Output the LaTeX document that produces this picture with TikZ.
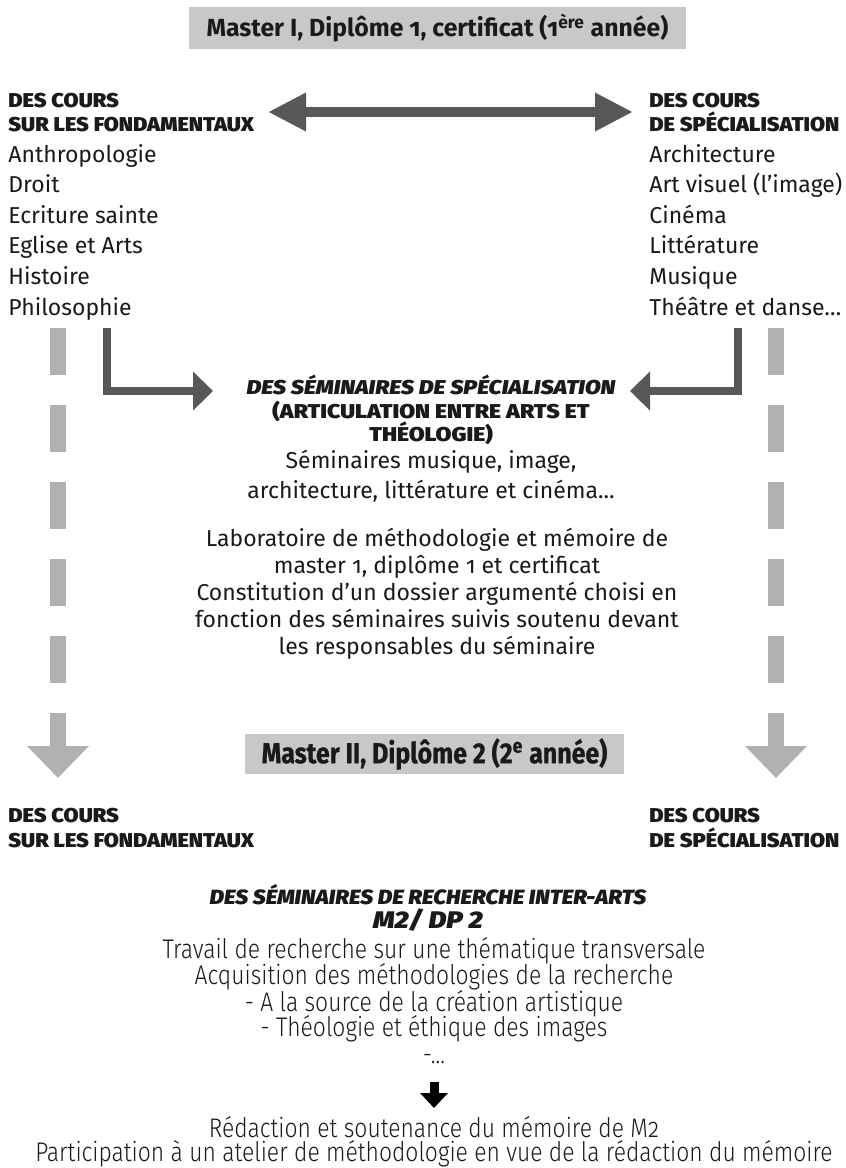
\documentclass[tikz,border=0pt]{standalone}
\usepackage{fontspec}
\usetikzlibrary{arrows.meta}
\setmainfont{Fira Sans}[Numbers=OldStyle]
\newfontfamily\heavyfont{Fira Sans Black}[Numbers=Lining, FakeStretch=1.09, ItalicFont={Fira Sans Black Italic}]
\newfontfamily\heavywide{Fira Sans Black}[Numbers=Lining, FakeStretch=1.15, ItalicFont={Fira Sans Black Italic}]
\newfontfamily\condlight{Fira Sans Light}[Numbers=OldStyle, FakeStretch=0.85]
\newfontfamily\condbold{Fira Sans}[Numbers=Lining, FakeStretch=0.86, FakeBold=0.8]
\definecolor{boxgray}{HTML}{C8C8C8}
\definecolor{dashgray}{HTML}{B0B1B3}
\definecolor{darkarr}{HTML}{58585A}
\definecolor{ink}{HTML}{1A1A1A}
\begin{document}
\begin{tikzpicture}[x=0.5pt,y=-0.5pt,
  every node/.style={inner sep=0pt, text=ink},
  titlebox/.style={fill=boxgray},
  hdr/.style={anchor=base west, font=\heavyfont\fontsize{10}{12}\selectfont},
  item/.style={anchor=base west, font=\fontsize{11.5}{14}\selectfont},
  ctext/.style={anchor=base, font=\fontsize{11.5}{14}\selectfont},
  chead/.style={anchor=base, font=\heavywide\fontsize{10}{12}\selectfont},
  btext/.style={anchor=base, font=\condlight\fontsize{13.45}{15}\selectfont},
  darkline/.style={draw=darkarr, line width=4pt},
  grayline/.style={draw=dashgray, line width=8pt, dash pattern=on 23.25pt off 15.25pt}
]
\useasboundingbox (0,0) rectangle (846,1168);

% title box
\node[titlebox, minimum width=248.5pt, minimum height=21pt, font=\bfseries\fontsize{12.4}{14}\selectfont] (m1) at (437.5,28)
  {Master I, Diplôme 1, certificat (1\textsuperscript{ère} année)};

% headers top
\node[hdr] (hl1) at (8,107) {DES COURS};
\node[hdr] (hl2) at (8,131) {SUR LES FONDAMENTAUX};
\node[hdr] (hr1) at (649,107) {DES COURS};
\node[hdr] (hr2) at (649,131) {DE SPÉCIALISATION};

% lists
\foreach \t [count=\i] in {Anthropologie, Droit, Ecriture sainte, Eglise et Arts, Histoire, Philosophie}
  \node[item] (L\i) at (8,{162+(\i-1)*30.6}) {\t};
\foreach \t [count=\i] in {Architecture, Art visuel (l’image), Cinéma, Littérature, Musique, Théâtre et danse…}
  \node[item] (R\i) at (649,{162+(\i-1)*30.6}) {\t};

% double arrow
\coordinate (dA) at (268,112);
\coordinate (dB) at (633,112);
\draw[draw=darkarr, line width=5pt, {Triangle[length=19pt,width=18pt]}-{Triangle[length=19pt,width=18pt]}, darkarr] (dA) -- (dB);

% centre block 1
\node[chead] (s1) at (431,394) {\itshape DES SÉMINAIRES DE SPÉCIALISATION};
\node[chead] (s2) at (431,418) {(ARTICULATION ENTRE ARTS ET};
\node[chead] (s3) at (431,441) {THÉOLOGIE)};
\node[ctext] (s4) at (431,468) {Séminaires musique, image,};
\node[ctext] (s5) at (431,498) {architecture, littérature et cinéma...};
\node[ctext] (s6) at (437,546) {Laboratoire de méthodologie et mémoire de};
\node[ctext] (s7) at (437,573) {master 1, diplôme 1 et certificat};
\node[ctext] (s8) at (437,600) {Constitution d’un dossier argumenté choisi en};
\node[ctext] (s9) at (437,627) {fonction des séminaires suivis soutenu devant};
\node[ctext] (s10) at (437,654) {les responsables du séminaire};

% elbow arrows
\coordinate (eL0) at (107,328);
\coordinate (eL1) at (213,391);
\coordinate (eR0) at (737.5,328);
\coordinate (eR1) at (630,391);
\draw[darkline, -{Triangle[length=10pt,width=19pt]}, darkarr] (eL0) |- (eL1);
\draw[darkline, -{Triangle[length=10pt,width=19pt]}, darkarr] (eR0) |- (eR1);

% gray dashed arrows
\coordinate (gL0) at (58,328);
\coordinate (gL1) at (58,778);
\coordinate (gR0) at (776,328);
\coordinate (gR1) at (776,778);
\draw[grayline, -{Triangle[length=16pt,width=30pt]}, dashgray] (gL0) -- (gL1);
\draw[grayline, -{Triangle[length=16pt,width=30pt]}, dashgray] (gR0) -- (gR1);

% Master II box
\node[titlebox, minimum width=189.5pt, minimum height=20pt, font=\condbold\bfseries\fontsize{14.5}{16}\selectfont] (m2) at (434.5,754)
  {Master II, Diplôme 2 (2\textsuperscript{e} année)};

% headers bottom
\node[hdr] (bl1) at (8,822) {DES COURS};
\node[hdr] (bl2) at (8,847) {SUR LES FONDAMENTAUX};
\node[hdr] (br1) at (649,822) {DES COURS};
\node[hdr] (br2) at (649,847) {DE SPÉCIALISATION};

% bottom block
\node[anchor=base, font=\heavyfont\itshape\fontsize{10.3}{12}\selectfont] (t1) at (428,904) {DES SÉMINAIRES DE RECHERCHE INTER-ARTS};
\node[anchor=base, font=\heavywide\itshape\fontsize{12}{14}\selectfont] (t2) at (428,928) {M2/ DP 2};
\node[btext] (t3) at (434,958) {Travail de recherche sur une thématique transversale};
\node[btext] (t4) at (434,984) {Acquisition des méthodologies de la recherche};
\node[btext] (t5) at (434,1011) {- A la source de la création artistique};
\node[btext] (t6) at (434,1036) {- Théologie et éthique des images};
\node[btext] (t7) at (434,1063) {-...};
\coordinate (k0) at (434,1082);
\coordinate (k1) at (434,1108);
\draw[draw=black, line width=4.5pt, -{Triangle[length=7.5pt,width=13.5pt]}, black] (k0) -- (k1);
\node[btext] (t8) at (434,1137) {Rédaction et soutenance du mémoire de M2};
\node[btext] (t9) at (434,1161) {Participation à un atelier de méthodologie en vue de la rédaction du mémoire};
\end{tikzpicture}
\end{document}
